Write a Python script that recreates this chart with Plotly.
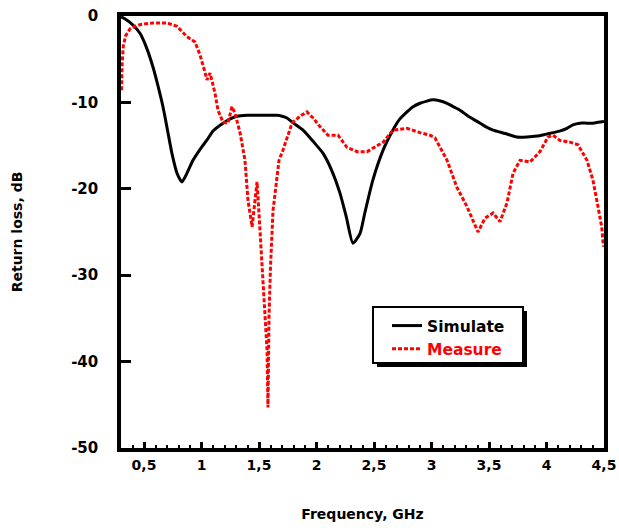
import plotly.graph_objects as go

# Simulated return loss (GHz, dB)
sim_f = [0.30, 0.33, 0.40, 0.465, 0.52, 0.578, 0.62, 0.665, 0.70, 0.743, 0.787, 0.83, 0.87, 0.926,
         1.00, 1.048, 1.10, 1.187, 1.25, 1.309, 1.40, 1.50, 1.60, 1.657, 1.70, 1.743, 1.80, 1.883,
         1.97, 2.057, 2.13, 2.204, 2.26, 2.317, 2.378, 2.42, 2.49, 2.58, 2.665, 2.72, 2.787, 2.84,
         2.90, 2.96, 3.013, 3.07, 3.135, 3.19, 3.248, 3.32, 3.396, 3.47, 3.535, 3.64, 3.74, 3.83,
         3.917, 3.99, 4.057, 4.12, 4.178, 4.23, 4.29, 4.35, 4.404, 4.45, 4.50]
sim_db = [-0.1, -0.3, -1.0, -2.0, -3.6, -5.9, -8.0, -10.5, -12.9, -15.9, -18.2, -19.2, -18.3, -16.7,
          -15.2, -14.35, -13.3, -12.4, -11.9, -11.6, -11.5, -11.5, -11.5, -11.5, -11.6, -11.8, -12.4, -13.2,
          -14.5, -15.9, -17.8, -20.5, -23.3, -26.3, -25.2, -22.8, -19.0, -15.5, -13.2, -12.0, -11.1, -10.5,
          -10.1, -9.85, -9.7, -9.8, -10.1, -10.5, -10.9, -11.6, -12.2, -12.8, -13.2, -13.6, -14.0, -14.0,
          -13.9, -13.7, -13.5, -13.3, -13.0, -12.6, -12.4, -12.4, -12.4, -12.3, -12.2]

# Measured return loss (GHz, dB)
meas_f = [0.305, 0.31, 0.32, 0.34, 0.378, 0.42, 0.465, 0.52, 0.578, 0.64, 0.70, 0.787, 0.874, 0.943,
          0.987, 1.03, 1.048, 1.074, 1.117, 1.143, 1.187, 1.23, 1.265, 1.29, 1.335, 1.378, 1.404,
          1.44, 1.483, 1.51, 1.535, 1.555, 1.57, 1.578, 1.587, 1.60, 1.613, 1.622, 1.64, 1.657,
          1.674, 1.709, 1.787, 1.857, 1.917, 1.97, 2.03, 2.10, 2.187, 2.265, 2.352, 2.44, 2.49,
          2.58, 2.665, 2.787, 2.90, 2.987, 3.03, 3.135, 3.22, 3.31, 3.404, 3.465, 3.535, 3.596,
          3.657, 3.709, 3.77, 3.857, 3.943, 4.013, 4.057, 4.117, 4.204, 4.274, 4.352, 4.404,
          4.448, 4.48, 4.495]
meas_db = [-8.6, -5.5, -3.5, -2.3, -1.5, -1.2, -1.0, -0.9, -0.8, -0.8, -0.8, -1.2, -2.4, -3.0,
           -4.5, -6.5, -7.4, -6.6, -8.9, -10.9, -12.3, -12.4, -10.5, -11.2, -13.5, -16.7, -21.3,
           -24.4, -19.2, -25.1, -30.9, -35.0, -38.7, -45.3, -34.8, -29.0, -25.1, -22.5, -20.5, -18.6,
           -16.7, -15.5, -12.4, -11.6, -11.1, -11.8, -12.8, -13.8, -13.8, -15.2, -15.7, -15.7, -15.3,
           -14.6, -13.2, -13.0, -13.5, -13.8, -14.1, -16.7, -19.8, -22.1, -25.0, -23.4, -22.8, -23.8,
           -21.6, -18.2, -16.7, -16.9, -15.7, -14.0, -13.8, -14.4, -14.6, -14.9, -16.7, -19.0,
           -22.1, -24.4, -26.7]

x_tickvals = [0.5, 1, 1.5, 2, 2.5, 3, 3.5, 4, 4.5]
x_ticktext = ["0,5", "1", "1,5", "2", "2,5", "3", "3,5", "4", "4,5"]
y_tickvals = [0, -10, -20, -30, -40, -50]
y_ticktext = ["0", "-10", "-20", "-30", "-40", "-50"]

FONT = "DejaVu Sans, Liberation Sans, Arial"

fig = go.Figure()
fig.add_trace(go.Scatter(x=sim_f, y=sim_db, mode="lines", name="<b>Simulate</b>",
                         line=dict(color="black", width=3, shape="spline", smoothing=0.6)))
fig.add_trace(go.Scatter(x=meas_f, y=meas_db, mode="lines",
                         name="<b><span style='color:#ff0000'>Measure</span></b>",
                         line=dict(color="#ff0000", width=3, dash="4px,2px")))

fig.update_layout(
    width=619, height=528,
    margin=dict(l=121, r=15, t=16, b=80, autoexpand=False),
    paper_bgcolor="white", plot_bgcolor="white",
    font=dict(family=FONT, size=14, color="black"),
    showlegend=True,
    legend=dict(x=(387 - 121) / 483, y=(448 - 309) / 432, xanchor="left", yanchor="top",
                bgcolor="rgba(0,0,0,0)", borderwidth=0,
                font=dict(family=FONT, size=15.5, color="black"),
                tracegroupgap=0),
    shapes=[
        dict(type="rect", xref="paper", yref="paper",
             x0=(377 - 121) / 483, x1=(527 - 121) / 483,
             y0=(448 - 367) / 432, y1=(448 - 311) / 432,
             fillcolor="black", line=dict(width=0), layer="above"),
        dict(type="rect", xref="paper", yref="paper",
             x0=(373 - 121) / 483, x1=(523 - 121) / 483,
             y0=(448 - 363) / 432, y1=(448 - 307) / 432,
             fillcolor="white", line=dict(color="black", width=2), layer="above"),
    ],
)

fig.update_xaxes(
    range=[0.3, 4.5], showgrid=False, zeroline=False, automargin=False,
    showline=True, linecolor="black", linewidth=3.5, mirror=True,
    ticks="inside", ticklen=6, tickwidth=2.5, tickcolor="black",
    tickvals=x_tickvals, ticktext=["<b>%s</b>" % t for t in x_ticktext],
    tickfont=dict(family=FONT, size=14), ticklabelstandoff=1,
    minor=dict(ticks="inside", ticklen=3, tickwidth=2, tickcolor="black", dtick=0.1, tick0=0),
    title=dict(text="<b>Frequency, GHz</b>", font=dict(family=FONT, size=14), standoff=39),
)
fig.update_yaxes(
    range=[-50, 0], showgrid=False, zeroline=False, automargin=False,
    showline=True, linecolor="black", linewidth=3.5, mirror=True,
    ticks="inside", ticklen=10, tickwidth=3, tickcolor="black",
    tickvals=y_tickvals, ticktext=["<b>%s</b>" % t for t in y_ticktext],
    tickfont=dict(family=FONT, size=15), ticklabelstandoff=16,
    title=dict(text="<b>Return loss, dB</b>", font=dict(family=FONT, size=14), standoff=46),
)

fig.write_html("out.html")
